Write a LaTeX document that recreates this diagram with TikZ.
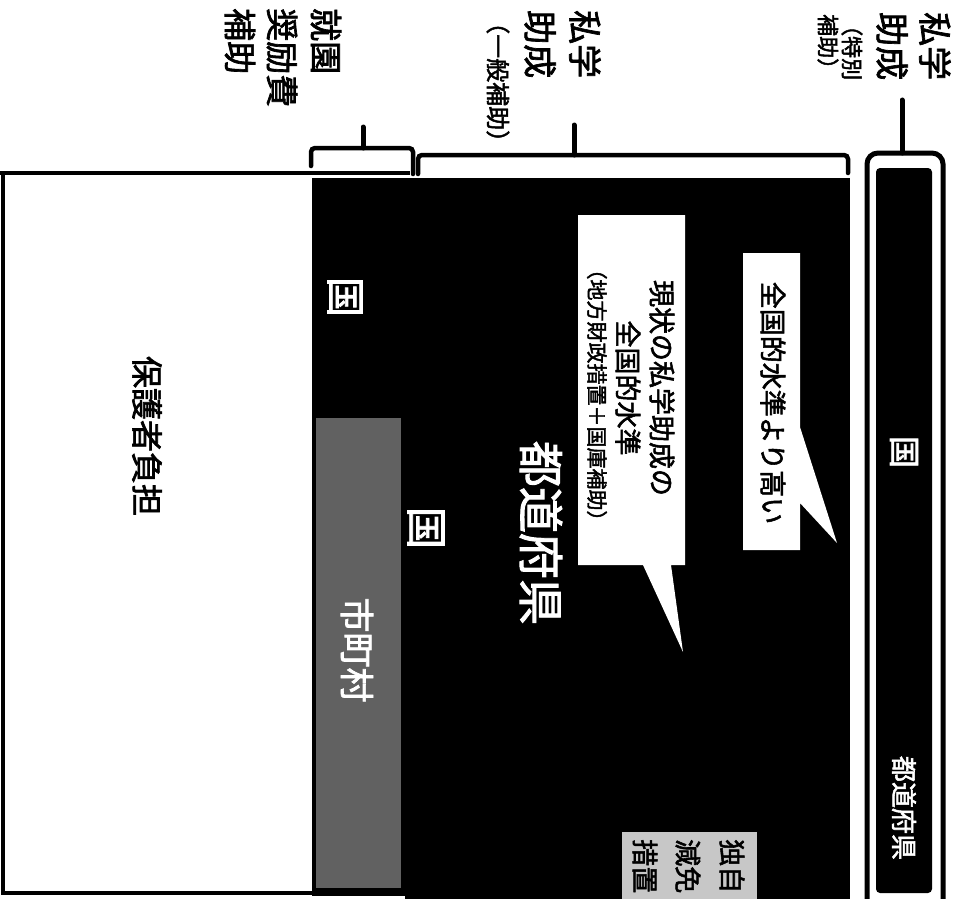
\documentclass[tikz,border=0pt]{standalone}
\usepackage{fontspec}
\newfontfamily\cjk{Noto Sans CJK JP}[AutoFakeBold=2]
\newcommand\myfs[1]{\fontsize{#1}{#1}\selectfont}
\begin{document}
\begin{tikzpicture}[x=1pt,y=-1pt,
  vt/.style={rotate=-90, inner sep=0pt, font=\cjk\bfseries\myfs{#1}},
  wt/.style={vt=#1, text=white},
  kuni/.style={rotate=-90, inner sep=0pt, text=white, font=\cjk\bfseries\fontsize{#1}{#1}\selectfont},
  br/.style={line width=4.5pt, rounded corners=4pt, line cap=round},
  tick/.style={line width=5pt, line cap=round},
  bubble/.style={fill=white}]
\useasboundingbox (0,0) rectangle (954,899);
\clip (0,0) rectangle (954,899);
\fill[white] (0,0) rectangle (954,899);

% parent burden box
\draw[line width=4pt] (0,173) -- (410,173);
\draw[line width=4pt] (3,173) -- (3,893) -- (314,893);
\node[vt=32] (hogo) at (147,436) {保護者負担};

% national / municipal column
\fill[black] (312,178) rectangle (406,896);
\fill[black!62] (316,418) rectangle (401,888);
\node[kuni=40] (kuni1) at (345,297) {国};
\node[wt=35] (shi) at (357,650) {市町村};

% prefecture block
\fill[black] (405,178) rectangle (850,899);
\node[kuni=42] (kuni2) at (426,528) {国};
\node[wt=46] (todo) at (541,533) {都道府県};

% own subsidy (gray)
\fill[black!22] (622,832) rectangle (757,905);
\node[vt=27, anchor=west] (dok1) at (732,839) {独自};
\node[vt=27, anchor=west] (dok2) at (688,839) {減免};
\node[vt=27, anchor=west] (dok3) at (645,839) {措置};

% bubble 1
\fill[bubble] (743,253) -- (800,253) -- (800,427) -- (837,543) -- (800,503) -- (800,550) -- (743,550) -- cycle;
\node[vt=27] (b1) at (773,403) {全国的水準より高い};

% bubble 2
\fill[bubble] (578,215) -- (685,215) -- (685,565) -- (671,565) -- (683,652) -- (643,565) -- (578,565) -- cycle;
\node[vt=27] (b2a) at (662,388) {現状の私学助成の};
\node[vt=27] (b2b) at (628,388) {全国的水準};
\node[vt=21] (b2c) at (597,395) {（地方財政措置＋国庫補助）};

% special subsidy column
\draw[line width=5pt, rounded corners=11pt] (867,910) -- (867,153) -- (943,153) -- (943,910);
\fill[black, rounded corners=4pt] (876,168) rectangle (932,893);
\node[kuni=32] (kuni3) at (904,452) {国};
\node[wt=26] (todo2) at (904,808) {都道府県};

% brackets
\coordinate (t1) at (363,127);
\coordinate (t2) at (574,125);
\coordinate (t3) at (902,100);
\draw[br] (311,166) -- (311,148) -- (413,148) -- (413,174);
\draw[tick] (t1) -- (363,148);
\draw[br] (418,174) -- (418,155) -- (848,155) -- (848,173);
\draw[tick] (t2) -- (574,155);
\draw[tick] (t3) -- (902,153);

% labels
\node[vt=33, anchor=west] (lA1) at (326,8) {就園};
\node[vt=33, anchor=west] (lA2) at (282,8) {奨励費};
\node[vt=33, anchor=west] (lA3) at (240,8) {補助};

\node[vt=34, anchor=west] (lB1) at (585,10) {私学};
\node[vt=34, anchor=west] (lB2) at (540,10) {助成};
\node[vt=24, anchor=west] (lB3) at (498,10) {（一般補助）};

\node[vt=34, anchor=west] (lC1) at (935,12) {私学};
\node[vt=34, anchor=west] (lC2) at (892,12) {助成};
\node[vt=22, anchor=west] (lC3) at (852,14) {（特別};
\node[vt=22, anchor=west] (lC4) at (828,14) {補助）};
\end{tikzpicture}
\end{document}
